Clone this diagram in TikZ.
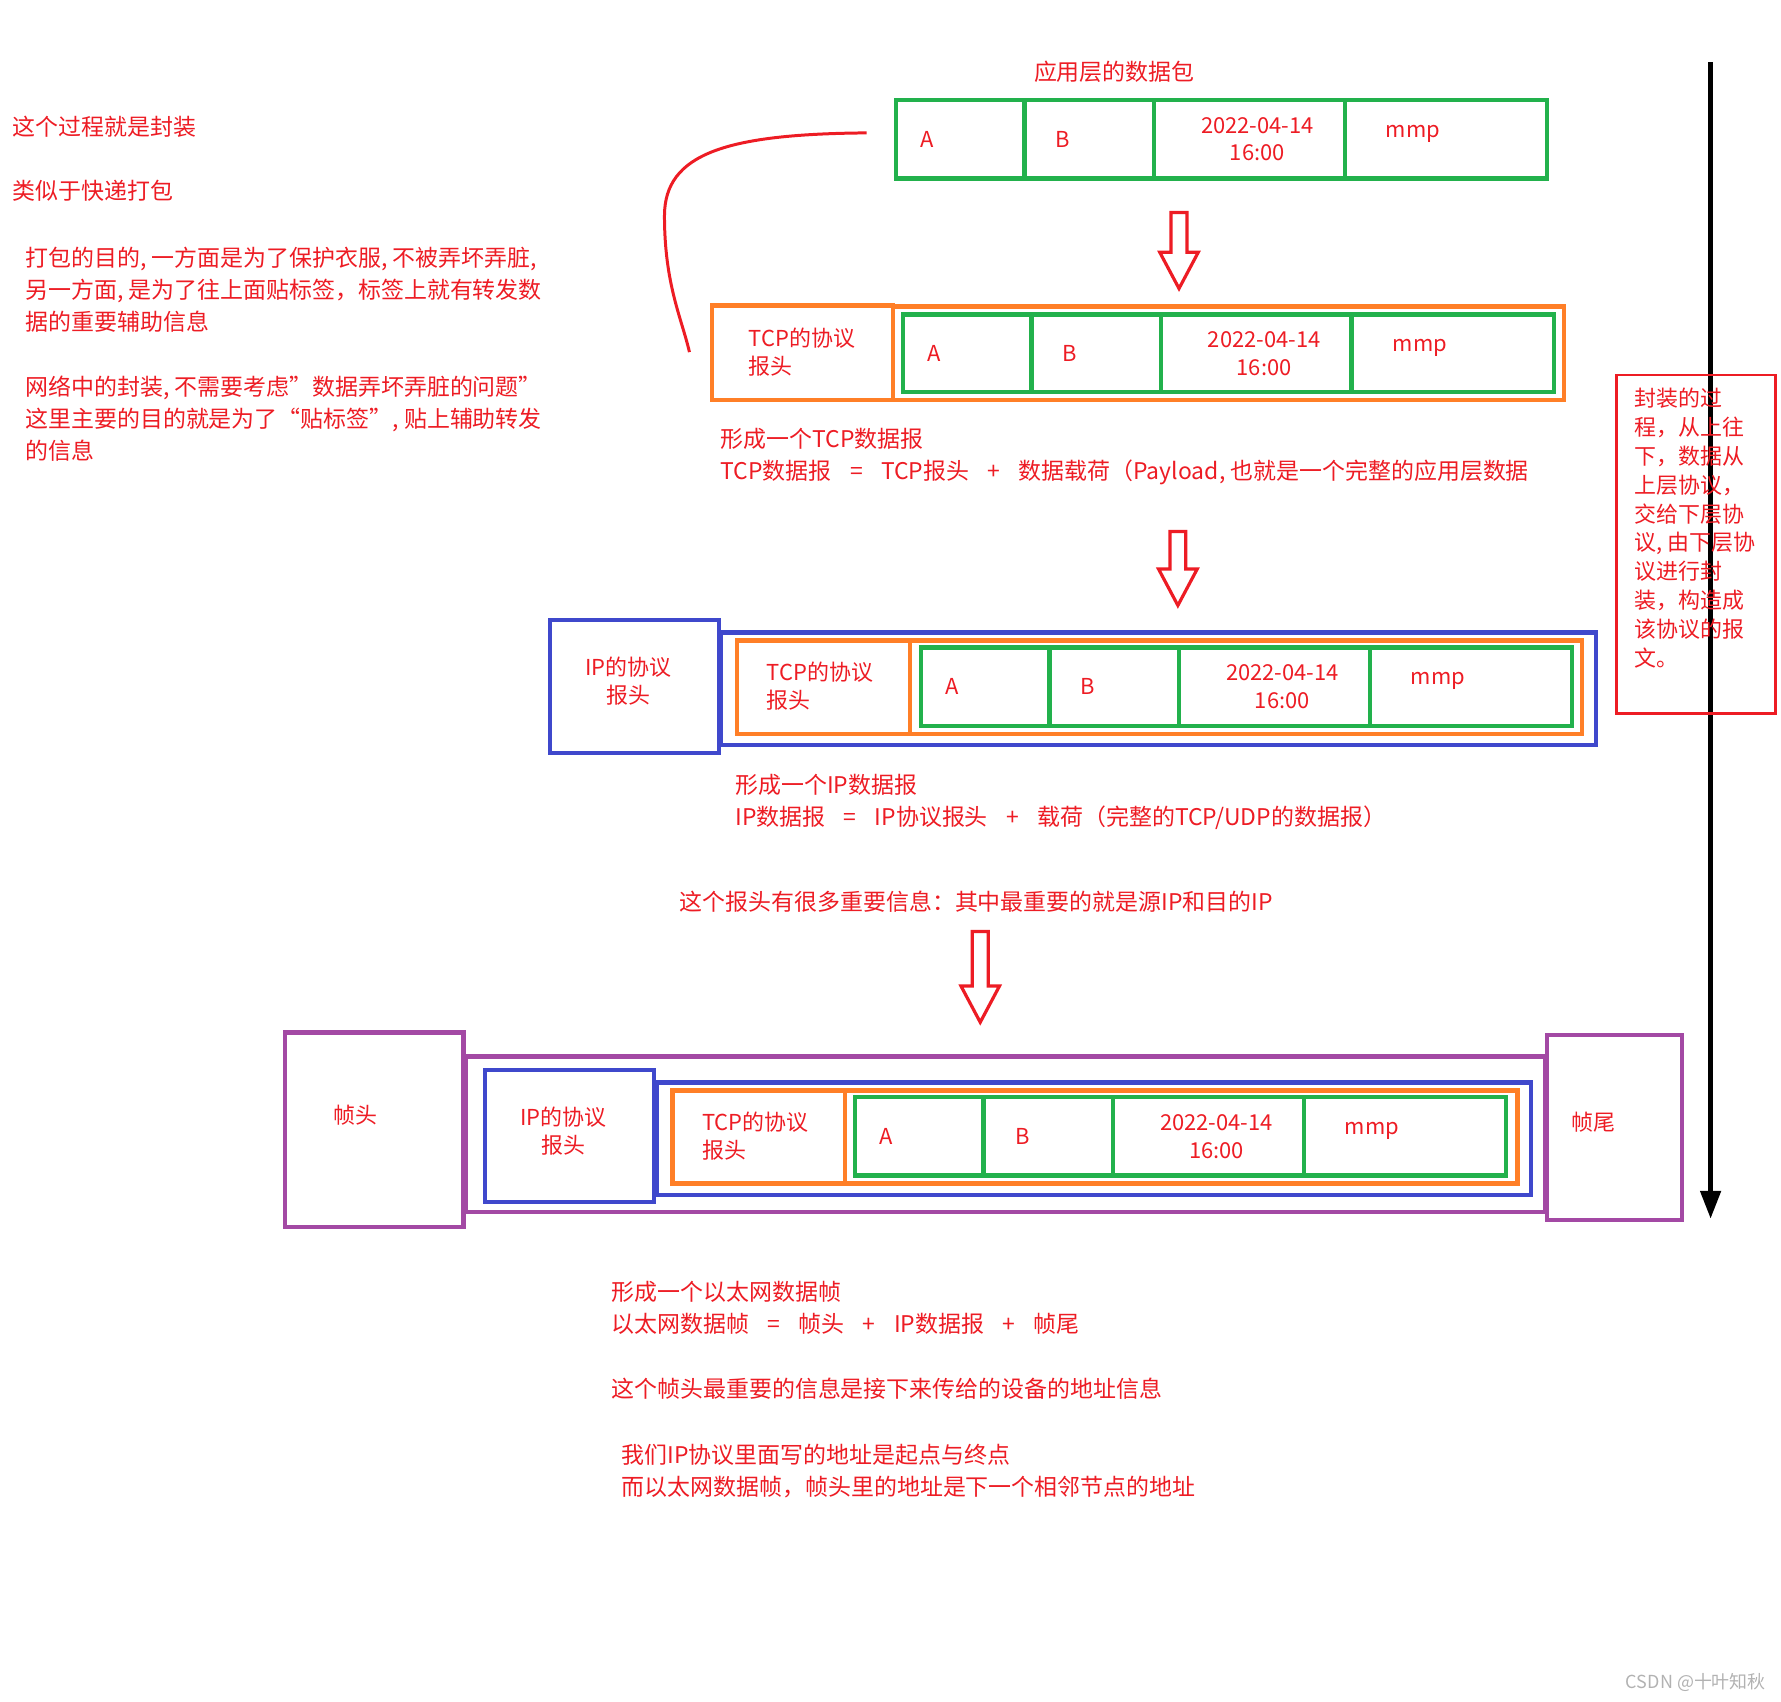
\documentclass[tikz,border=0pt]{standalone}
\usepackage{fontspec}
\newfontfamily\cjk{Noto Sans CJK SC}
\usetikzlibrary{arrows.meta}
\definecolor{gr}{RGB}{34,177,76}
\definecolor{org}{RGB}{255,127,39}
\definecolor{blu}{RGB}{63,72,204}
\definecolor{pur}{RGB}{163,73,164}
\definecolor{rd}{RGB}{237,28,36}
\begin{document}
\begin{tikzpicture}[x=0.02cm,y=-0.02cm,
  txt/.style={text=rd,font=\cjk\fontsize{11.5}{16}\selectfont,inner sep=0,anchor=north west,align=left},
  gbox/.style={draw=gr,line width=2.2pt},
  obox/.style={draw=org,line width=2.2pt},
  bbox/.style={draw=blu,line width=2.2pt},
  pbox/.style={draw=pur,line width=2.2pt},
  lab/.style={text=rd,font=\cjk\fontsize{11}{14}\selectfont,align=center},
  darrow/.style={draw=rd,line width=1.6pt,fill=white}]
\useasboundingbox (0,0) rectangle (1568,1498);
\newcommand\wsp{\hspace{0.8em}}
\newcommand\datarow[5]{%
  \draw[gbox] (#1,#4) rectangle (#1+113,#5);
  \draw[gbox] (#1+113,#4) rectangle (#1+227,#5);
  \draw[gbox] (#1+227,#4) rectangle (#1+395,#5);
  \draw[gbox] (#1+395,#4) rectangle (#1+573,#5);
  \node[lab] (#2a) at (#1+27,#4/2+#5/2) {A};
  \node[lab] (#2b) at (#1+147,#4/2+#5/2) {B};
  \node[lab] (#2c) at (#1+318,#4/2+#5/2) {2022-04-14\\16:00};
  \node[lab] (#2d) at (#1+455,#4/2+#5/2-5) {mmp};
}
\newcommand\darr[3]{%
  \draw[darrow] (#1-7,#2) -- (#1+7,#2) -- (#1+7,#3-32) -- (#1+17,#3-32) -- (#1,#3) -- (#1-17,#3-32) -- (#1-7,#3-32) -- cycle;}
% row 1
\node[txt] (t1) at (910,53) {应用层的数据包};
\datarow{789}{r}{0}{88}{157}
% left texts
\node[txt] (l1) at (11,102) {这个过程就是封装};
\node[txt] (l2) at (11,158) {类似于快递打包};
\node[txt] (l3) at (22,217) {打包的目的, 一方面是为了保护衣服, 不被弄坏弄脏,\\另一方面, 是为了往上面贴标签，标签上就有转发数\\据的重要辅助信息};
\node[txt] (l4) at (22,331) {网络中的封装, 不需要考虑”数据弄坏弄脏的问题”\\这里主要的目的就是为了“贴标签”, 贴上辅助转发\\的信息};
\coordinate (c1) at (763,117);
\coordinate (c2) at (607,310);
\draw[rd,line width=1.5pt] (c1) .. controls (640,118) and (585,135) .. (585,190) .. controls (585,250) and (600,280) .. (c2);
\darr{1038}{187}{254}
% row 2
\draw[obox] (627,269) rectangle (786,352);
\node[lab,align=left] (h2) at (706,310) {TCP的协议\\报头};
\draw[obox] (786,270) rectangle (1377,352);
\datarow{795}{s}{0}{277}{345}
\node[txt] (t2) at (634,377) {形成一个TCP数据报\\TCP数据报\wsp=\wsp TCP报头\wsp+\wsp 数据载荷（Payload, 也就是一个完整的应用层数据};
\darr{1037}{468}{533}
% row 3
\draw[bbox] (484,546) rectangle (633,663);
\node[lab] (i3) at (553,600) {IP的协议\\报头};
\draw[bbox] (635,557) rectangle (1405,656);
\draw[obox] (649,564) rectangle (801,646);
\node[lab,align=left] (h3) at (722,604) {TCP的协议\\报头};
\draw[obox] (801,564) rectangle (1393,646);
\datarow{811}{u}{0}{570}{639}
\node[txt] (t3) at (647,681) {形成一个IP数据报\\IP数据报\wsp=\wsp IP协议报头\wsp+\wsp 载荷（完整的TCP/UDP的数据报）};
\node[txt] (t4) at (598,784) {这个报头有很多重要信息：其中最重要的就是源IP和目的IP};
\darr{863}{820}{900}
% row 4
\draw[pbox] (251,909) rectangle (408,1080);
\node[lab] (fh) at (313,982) {帧头};
\draw[pbox] (410,930) rectangle (1360,1067);
\draw[pbox] (1362,911) rectangle (1481,1074);
\node[lab] (ft) at (1403,988) {帧尾};
\draw[bbox] (427,942) rectangle (576,1058);
\node[lab] (i4) at (496,996) {IP的协议\\报头};
\draw[bbox] (578,953) rectangle (1348,1052);
\draw[obox] (592,960) rectangle (744,1042);
\node[lab,align=left] (h4) at (665,1000) {TCP的协议\\报头};
\draw[obox] (744,960) rectangle (1336,1042);
\datarow{753}{v}{0}{966}{1035}
\node[txt] (t5) at (538,1128) {形成一个以太网数据帧\\以太网数据帧\wsp=\wsp 帧头\wsp+\wsp IP数据报\wsp+\wsp 帧尾};
\node[txt] (t6) at (538,1213) {这个帧头最重要的信息是接下来传给的设备的地址信息};
\node[txt] (t7) at (547,1271) {我们IP协议里面写的地址是起点与终点\\而以太网数据帧，帧头里的地址是下一个相邻节点的地址};
% right
\coordinate (a1) at (1506,55);
\coordinate (a2) at (1506,1073);
\draw[line width=2.5pt,-{Triangle[length=14pt,width=10pt]}] (a1) -- (a2);
\draw[rd,line width=1.2pt] (1423,330) rectangle (1563,628);
\node[txt,font=\cjk\fontsize{11}{14.5}\selectfont] (rt) at (1439,341) {封装的过\\程，从上往\\下，数据从\\上层协议，\\交给下层协\\议, 由下层协\\议进行封\\装，构造成\\该协议的报\\文。};
\node[text=gray!60,font=\cjk\fontsize{9}{10}\selectfont,anchor=south east,inner sep=0] (wm) at (1555,1490) {CSDN @十叶知秋};
\end{tikzpicture}
\end{document}
